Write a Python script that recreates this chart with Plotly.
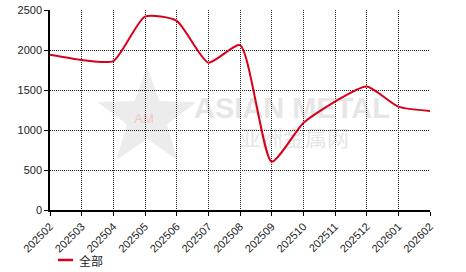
import base64
import math
import plotly.graph_objects as go

months = ["202502", "202503", "202504", "202505", "202506", "202507", "202508",
          "202509", "202510", "202511", "202512", "202601", "202602"]
values = [1940, 1875, 1862, 2418, 2365, 1842, 2060, 604, 1088, 1356, 1545, 1292, 1238]
series_name = "全部"
y_ticks = [0, 500, 1000, 1500, 2000, 2500]
line_color = "#d9001b"

W, H = 466, 272
ML, MR, MT, MB = 50, 36, 10, 62
pw, ph = W - ML - MR, H - MT - MB

# watermark (logo) as an SVG background image
cx, cy, ro, ri = 147, 118, 52, 21
pts = []
for i in range(10):
    r = ro if i % 2 == 0 else ri
    a = math.radians(90 - 36 * i)
    pts.append(f"{cx + r * math.cos(a):.1f},{cy - r * math.sin(a):.1f}")
svg = f'''<svg xmlns="http://www.w3.org/2000/svg" width="{W}" height="{H}">
<polygon points="{' '.join(pts)}" fill="#ececec"/>
<text x="144" y="123" font-family="Liberation Sans" font-size="13" fill="#f6c4c4" text-anchor="middle">AM</text>
<text x="292" y="118" font-family="Liberation Sans" font-weight="bold" font-size="29" fill="#e6e6e6" text-anchor="middle">ASIAN METAL</text>
<text x="294" y="146" font-family="Noto Sans CJK SC" font-size="22" fill="#e6e6e6" text-anchor="middle">亚洲金属网</text>
</svg>'''
uri = "data:image/svg+xml;base64," + base64.b64encode(svg.encode("utf-8")).decode()

fig = go.Figure()
fig.add_trace(go.Scatter(
    x=months, y=values, mode="lines", name=series_name, showlegend=False,
    line=dict(color=line_color, width=2, shape="spline", smoothing=0.6),
))

fig.add_layout_image(dict(
    source=uri, xref="paper", yref="paper", x=-ML / pw, y=1 + MT / ph,
    sizex=W / pw, sizey=H / ph, sizing="stretch", xanchor="left", yanchor="top",
    layer="below",
))

# legend (drawn manually to match the short legend swatch)
def px_x(p):
    return (p - ML) / pw

def px_y(p):
    return (H - MB - p) / ph

leg_y = 260
fig.add_shape(type="line", xref="paper", yref="paper",
              x0=px_x(58), x1=px_x(73), y0=px_y(leg_y), y1=px_y(leg_y),
              line=dict(color=line_color, width=2.5))
fig.add_annotation(text=series_name, xref="paper", yref="paper",
                   x=px_x(77), y=px_y(leg_y), xanchor="left", yanchor="middle",
                   showarrow=False, font=dict(size=12, family="Noto Sans CJK SC", color="#222"))

grid = dict(showgrid=True, gridcolor="#222", griddash="1px,1px", gridwidth=1)
fig.update_layout(
    width=W, height=H,
    margin=dict(l=ML, r=MR, t=MT, b=MB),
    paper_bgcolor="white", plot_bgcolor="rgba(0,0,0,0)",
    font=dict(family="Liberation Sans, Arial", size=11, color="#222"),
    showlegend=False,
    xaxis=dict(
        type="category", range=[0, len(months) - 1], tickangle=-45,
        showline=True, linecolor="black", linewidth=1.5, ticks="outside",
        ticklen=4, tickcolor="black", mirror=False, zeroline=False,
        automargin=False, **grid,
    ),
    yaxis=dict(
        range=[0, 2500], tickvals=y_ticks, showline=True, linecolor="black",
        linewidth=1.5, ticks="outside", ticklen=4, tickcolor="black",
        zeroline=False, automargin=False, **grid,
    ),
)
fig.write_html("out.html")
